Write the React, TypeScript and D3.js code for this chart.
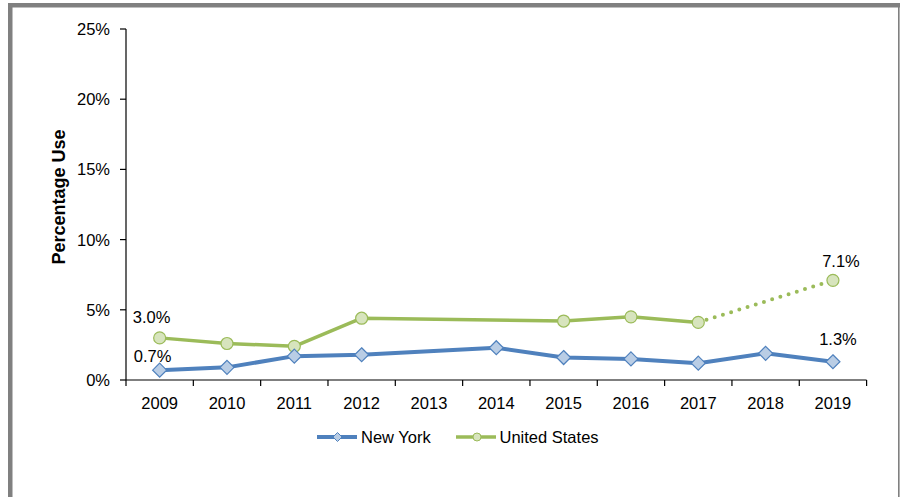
import React from "react";
import * as d3 from "d3";

const years = [2009, 2010, 2011, 2012, 2013, 2014, 2015, 2016, 2017, 2018, 2019];
const nyValues: (number | null)[] = [0.7, 0.9, 1.7, 1.8, null, 2.3, 1.6, 1.5, 1.2, 1.9, 1.3];
const usValues: (number | null)[] = [3.0, 2.6, 2.4, 4.4, null, null, 4.2, 4.5, 4.1, null, 7.1];
const usSolidEnd = 2017;
const yTicks = [0, 5, 10, 15, 20, 25];
const seriesNames = ["New York", "United States"];
const dataLabels = [
  { series: "us", year: 2009, text: "3.0%" },
  { series: "ny", year: 2009, text: "0.7%" },
  { series: "us", year: 2019, text: "7.1%" },
  { series: "ny", year: 2019, text: "1.3%" },
];

const W = 902;
const H = 497;
const FONT = "'Liberation Sans', Arial, sans-serif";
const NY_LINE = "#4F81BD";
const NY_FILL = "#B9CDE5";
const US_LINE = "#9BBB59";
const US_FILL = "#D7E4BD";
const labelOffsets: Record<string, [number, number]> = {
  "us-2009": [-8, -15],
  "ny-2009": [-7, -8],
  "us-2019": [8, -13],
  "ny-2019": [5, -16.5],
};

type Pt = { year: number; v: number };

export default function App() {
  const x = d3.scaleBand<number>().domain(years).range([126, 866.6]).padding(0);
  const y = d3.scaleLinear().domain([0, 25]).range([380, 29]);
  const cx = (yr: number) => (x(yr) as number) + x.bandwidth() / 2;

  const toPts = (vals: (number | null)[]): Pt[] =>
    years.map((yr, i) => ({ year: yr, v: vals[i] as number })).filter((d) => d.v !== null && d.v !== undefined);

  const nyPts = toPts(nyValues);
  const usPts = toPts(usValues);
  const usSolid = usPts.filter((d) => d.year <= usSolidEnd);
  const usDotted = usPts.filter((d) => d.year >= usSolidEnd);

  const line = d3
    .line<Pt>()
    .x((d) => cx(d.year))
    .y((d) => y(d.v));

  const diamond = (px: number, py: number, r: number) =>
    `M${px},${py - r}L${px + r},${py}L${px},${py + r}L${px - r},${py}Z`;

  const valueOf = (series: string, yr: number) => {
    const arr = series === "ny" ? nyValues : usValues;
    return arr[years.indexOf(yr)] as number;
  };

  return (
    <svg
      width={W}
      height={H}
      style={{ position: "absolute", left: 0, top: 0, background: "#fff" }}
      fontFamily={FONT}
    >
      {/* frame */}
      <rect x={8} y={3} width={892} height={4.5} fill="#808080" />
      <rect x={8} y={3} width={4.5} height={H} fill="#808080" />
      <rect x={898} y={3} width={1.6} height={H} fill="#808080" />

      {/* y axis */}
      <line x1={126} x2={126} y1={y(25)} y2={y(0)} stroke="#000" strokeWidth={1.2} />
      {yTicks.map((t) => (
        <g key={t}>
          <line x1={120} x2={126} y1={y(t)} y2={y(t)} stroke="#000" strokeWidth={1.2} />
          <text x={110} y={y(t) + 6} textAnchor="end" fontSize={16.5} fill="#000">
            {t}%
          </text>
        </g>
      ))}

      {/* x axis */}
      <line x1={126} x2={866.6} y1={y(0)} y2={y(0)} stroke="#000" strokeWidth={1.2} />
      {[...years.map((yr) => x(yr) as number), 866.6].map((tx, i) => (
        <line key={i} x1={tx} x2={tx} y1={y(0)} y2={y(0) + 6} stroke="#000" strokeWidth={1.2} />
      ))}
      {years.map((yr) => (
        <text key={yr} x={cx(yr)} y={409} textAnchor="middle" fontSize={16.5} fill="#000">
          {yr}
        </text>
      ))}

      {/* y title */}
      <text
        transform={`translate(65,197) rotate(-90)`}
        textAnchor="middle"
        fontSize={18}
        fontWeight="bold"
        fill="#000"
      >
        Percentage Use
      </text>

      {/* US line */}
      <path d={line(usSolid) || ""} fill="none" stroke={US_LINE} strokeWidth={3.5} strokeLinejoin="round" />
      <path
        d={line(usDotted) || ""}
        fill="none"
        stroke={US_LINE}
        strokeWidth={4}
        strokeLinecap="round"
        strokeDasharray="0 8.6"
      />
      {/* NY line */}
      <path d={line(nyPts) || ""} fill="none" stroke={NY_LINE} strokeWidth={4} strokeLinejoin="round" />

      {usPts.map((d) => (
        <circle key={d.year} cx={cx(d.year)} cy={y(d.v)} r={6} fill={US_FILL} stroke={US_LINE} strokeWidth={1.2} />
      ))}
      {nyPts.map((d) => (
        <path key={d.year} d={diamond(cx(d.year), y(d.v), 7)} fill={NY_FILL} stroke={NY_LINE} strokeWidth={1.2} />
      ))}

      {dataLabels.map((l) => {
        const off = labelOffsets[`${l.series}-${l.year}`];
        return (
          <text
            key={`${l.series}-${l.year}`}
            x={cx(l.year) + off[0]}
            y={y(valueOf(l.series, l.year)) + off[1]}
            textAnchor="middle"
            fontSize={16.5}
            fill="#000"
          >
            {l.text}
          </text>
        );
      })}

      {/* legend */}
      <g>
        <line x1={317} x2={357} y1={437} y2={437} stroke={NY_LINE} strokeWidth={4} />
        <path d={diamond(337.5, 437, 4.5)} fill={NY_FILL} stroke={NY_LINE} strokeWidth={1} />
        <text x={361} y={443} fontSize={16.5} fill="#000">
          {seriesNames[0]}
        </text>
        <line x1={456} x2={496} y1={437} y2={437} stroke={US_LINE} strokeWidth={3.5} />
        <circle cx={477} cy={437} r={4} fill={US_FILL} stroke={US_LINE} strokeWidth={1} />
        <text x={499.5} y={443} fontSize={16.5} fill="#000">
          {seriesNames[1]}
        </text>
      </g>
    </svg>
  );
}
